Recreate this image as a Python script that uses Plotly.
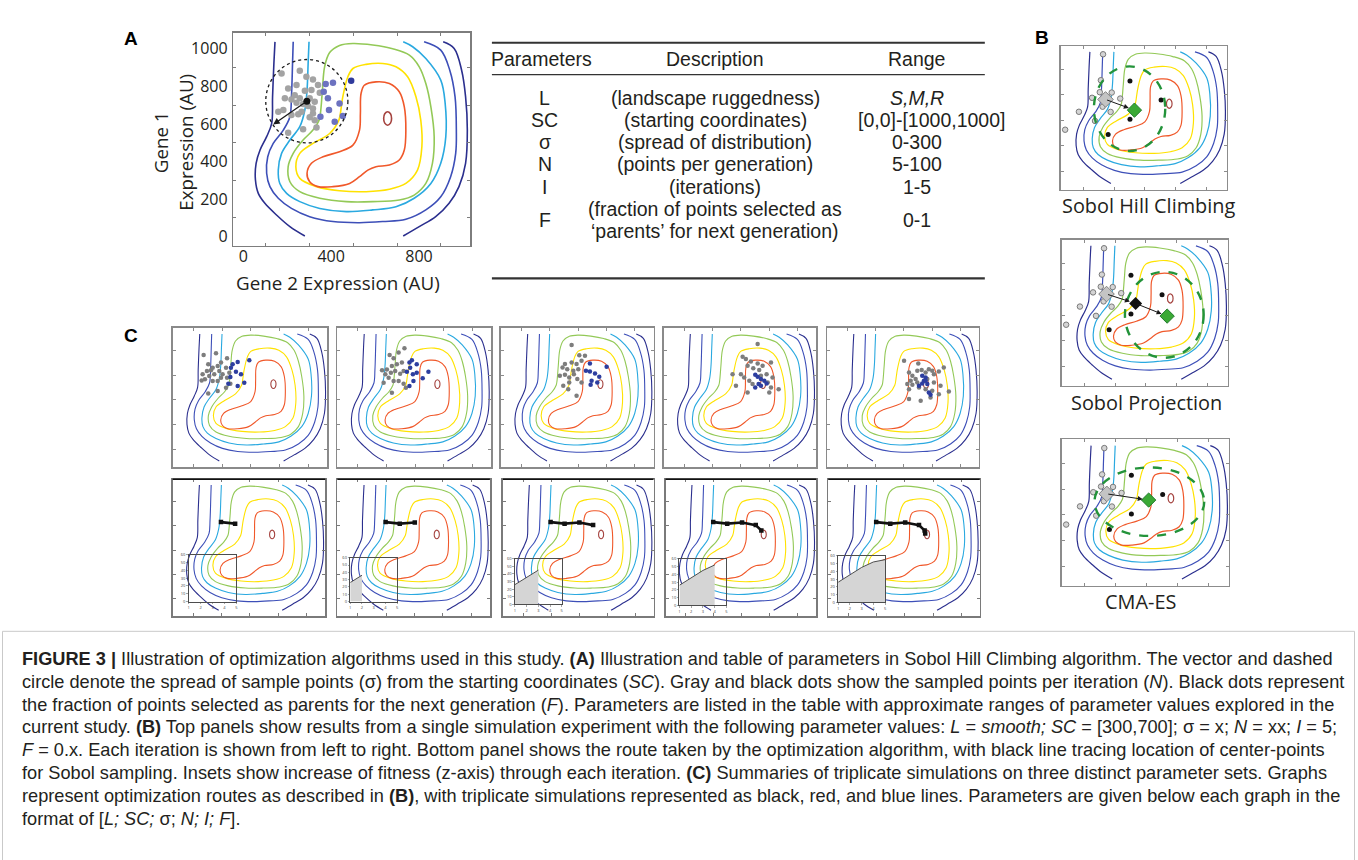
import plotly.graph_objects as go

W, H = 1358, 860
X_RANGE = [-45, 1032]
Y_RANGE = [-48, 1085]

# ---------------- landscape contour lines (gene 2 = x, gene 1 = y, AU) ----------------
NAVY1_L_X = [144, 139, 133, 129, 106, 76, 58, 55, 68, 98, 151, 212, 280]
NAVY1_L_Y = [1037, 922, 745, 603, 532, 461, 390, 301, 230, 177, 115, 53, 3]
NAVY1_R_X = [728, 801, 876, 937, 982, 1012, 1020, 1012, 994, 960, 910]
NAVY1_R_Y = [3, 53, 106, 177, 266, 390, 567, 745, 886, 1002, 1037]
NAVY2_X = [227, 224, 219, 212, 182, 136, 111, 106, 121, 159, 219, 302, 408, 529, 635, 740, 831, 899, 944, 967, 970, 964, 940, 899, 823]
NAVY2_Y = [1037, 922, 745, 638, 567, 496, 425, 337, 266, 204, 150, 106, 80, 74, 80, 92, 142, 212, 319, 443, 567, 745, 886, 993, 1037]
CYAN_X = [299, 295, 290, 280, 257, 212, 174, 159, 166, 197, 257, 348, 469, 589, 695, 778, 854, 899, 922, 919, 899, 831, 771, 728]
CYAN_Y = [1037, 922, 780, 674, 585, 514, 443, 354, 283, 230, 186, 150, 133, 142, 159, 204, 283, 390, 532, 709, 833, 948, 1011, 1037]
GREEN_X = [351, 360, 370, 393, 438, 499, 589, 680, 756, 801, 831, 854, 869, 861, 831, 778, 710, 589, 469, 348, 257, 212, 204, 227, 272, 317, 345, 351]
GREEN_Y = [656, 780, 904, 980, 1018, 1028, 1020, 1000, 966, 904, 815, 691, 532, 390, 283, 221, 195, 186, 186, 204, 239, 292, 372, 443, 514, 567, 620, 656]
YELLOW_X = [453, 476, 499, 559, 635, 695, 748, 786, 808, 813, 793, 740, 665, 559, 438, 333, 257, 239, 257, 317, 393, 435, 446, 453]
YELLOW_Y = [745, 851, 895, 917, 922, 904, 851, 745, 620, 478, 354, 283, 252, 239, 244, 266, 310, 372, 443, 496, 549, 620, 691, 745]
RED_X = [536, 552, 604, 665, 710, 733, 740, 733, 710, 665, 604, 567, 529, 484, 408, 340, 302, 290, 310, 363, 438, 499, 529, 533, 536]
RED_Y = [762, 807, 824, 815, 771, 691, 567, 461, 408, 381, 372, 354, 319, 283, 266, 266, 292, 337, 390, 425, 452, 487, 567, 656, 762]
PEAK_X = [675, 670, 657, 644, 639, 644, 657, 670, 675]
PEAK_Y = [629, 654, 665, 654, 629, 604, 593, 604, 629]

# ---------------- panel A samples ----------------
A_GRAY_X = [174, 257, 287, 317, 242, 204, 340, 310, 280, 234, 189, 219, 257, 302, 325, 348, 242, 272, 295, 317, 265, 159, 182, 219, 250, 302, 325, 333, 272, 204, 317]
A_GRAY_Y = [869, 883, 851, 837, 807, 789, 807, 780, 776, 753, 736, 730, 736, 736, 718, 766, 713, 706, 695, 682, 665, 665, 674, 647, 652, 635, 620, 581, 571, 553, 656]
A_BLUE_X = [375, 408, 366, 385, 438, 390, 351, 416, 453]
A_BLUE_Y = [812, 819, 771, 736, 709, 674, 638, 612, 642]
A_OUT_X = [491]
A_OUT_Y = [830]
A_SC = [289, 721]          # starting coordinates
A_SIGMA = [187, 222]       # spread (x, y)
A_ARROW_TIP = [136, 597]

# ---------------- panel B samples ----------------
B_GRAY_X = [229, 215, 208, 285, 158, 340, 226, 278, 73, 177, -16]
B_GRAY_Y = [1018, 814, 720, 717, 676, 670, 606, 565, 566, 494, 425]
B_START = [245, 663]
B_BLACK_X = [403, 604, 403, 262]
B_BLACK_Y = [808, 658, 508, 387]
B_TITLES = ["Sobol Hill Climbing", "Sobol Projection", "CMA-ES"]
B_NEW_X = [432, 637, 514]
B_NEW_Y = [579, 492, 615]
B_MID = [433, 590]          # intermediate centre (projection)
B_ELL_X0 = [170, 364, 166]
B_ELL_X1 = [631, 873, 871]
B_ELL_Y0 = [258, 169, 337]
B_ELL_Y1 = [923, 835, 868]

# ---------------- panel C, top row samples (5 iterations) ----------------
C1_GRAY_X = [171, 257, 203, 234, 269, 292, 334, 194, 222, 164, 210, 245, 280, 303, 327, 350, 292, 269, 334, 357, 234, 157, 180, 327, 203, 269]
C1_GRAY_Y = [867, 880, 790, 763, 777, 804, 839, 736, 741, 709, 695, 709, 736, 709, 763, 722, 681, 654, 681, 632, 654, 659, 668, 599, 553, 572]
C1_BLUE_X = [373, 408, 489, 361, 396, 431, 357, 454, 408, 343]
C1_BLUE_Y = [790, 809, 823, 763, 730, 709, 687, 640, 613, 632]
C2_GRAY_X = [426, 385, 322, 350, 408, 373, 338, 303, 269, 292, 331, 361, 396, 420, 315, 350, 280, 420, 385, 338, 436]
C2_GRAY_Y = [921, 886, 867, 839, 804, 790, 777, 749, 741, 709, 722, 736, 714, 736, 681, 654, 640, 632, 654, 558, 599]
C2_BLUE_X = [461, 478, 512, 466, 443, 485, 512, 594, 554, 489, 461]
C2_BLUE_Y = [804, 823, 790, 763, 730, 709, 722, 730, 676, 654, 613]
C3_GRAY_X = [454, 508, 548, 524, 489, 454, 407, 390, 423, 466, 501, 371, 407, 437, 470, 494, 524, 437, 395, 489, 430]
C3_GRAY_Y = [947, 865, 860, 819, 792, 805, 792, 765, 751, 737, 751, 697, 705, 683, 710, 670, 642, 642, 615, 534, 588]
C3_BLUE_X = [583, 555, 583, 619, 649, 595, 635, 701, 588]
C3_BLUE_Y = [797, 737, 732, 716, 689, 656, 642, 770, 623]
C4_GRAY_X = [619, 513, 536, 571, 619, 654, 713, 548, 588, 630, 442, 501, 524, 560, 583, 466, 548, 682, 690, 724, 713, 767, 701, 642]
C4_GRAY_Y = [955, 852, 833, 814, 797, 778, 805, 778, 759, 743, 710, 710, 683, 656, 629, 615, 561, 710, 642, 683, 602, 588, 561, 697]
C4_BLUE_X = [602, 619, 642, 666, 682, 602, 626, 642]
C4_BLUE_Y = [705, 689, 670, 656, 634, 602, 629, 615]
C5_GRAY_X = [501, 602, 536, 560, 595, 626, 654, 677, 701, 713, 748, 783, 583, 548, 524, 560, 595, 536, 607, 654, 713, 760, 748, 819, 701, 619, 536, 689, 666]
C5_GRAY_Y = [819, 797, 724, 697, 737, 743, 724, 751, 737, 710, 732, 765, 670, 656, 629, 623, 642, 588, 602, 588, 642, 615, 547, 569, 575, 493, 507, 520, 670]
C5_BLUE_X = [630, 654, 642, 630, 666, 607, 677, 689, 654]
C5_BLUE_Y = [697, 683, 656, 634, 629, 615, 561, 542, 656]

# ---------------- panel C, bottom row route & fitness insets ----------------
ROUTE_X = [296, 396, 502, 600, 640, 644]
ROUTE_Y = [731, 718, 727, 706, 662, 636]
ITER = [1, 2, 3, 4, 5]
FITNESS = [26, 36, 45, 52, 55]

# ---------------- table ----------------
TABLE_HEAD = ["Parameters", "Description", "Range"]
TABLE_PARAM = ["L", "SC", "σ", "N", "I", "F"]
TABLE_DESC = ["(landscape ruggedness)", "(starting coordinates)", "(spread of distribution)",
              "(points per generation)", "(iterations)",
              "(fraction of points selected as", "‘parents’ for next generation)"]
TABLE_RANGE = ["<i>S,M,R</i>", "[0,0]-[1000,1000]", "0-300", "5-100", "1-5", "0-1"]

CAPTION_LINES = [
    "<b>FIGURE 3 |</b> Illustration of optimization algorithms used in this study. <b>(A)</b> Illustration and table of parameters in Sobol Hill Climbing algorithm. The vector and dashed",
    "circle denote the spread of sample points (σ) from the starting coordinates (<i>SC</i>). Gray and black dots show the sampled points per iteration (<i>N</i>). Black dots represent",
    "the fraction of points selected as parents for the next generation (<i>F</i>). Parameters are listed in the table with approximate ranges of parameter values explored in the",
    "current study. <b>(B)</b> Top panels show results from a single simulation experiment with the following parameter values: <i>L</i> = <i>smooth; SC</i> = [300,700]; σ = x; <i>N</i> = xx; <i>I</i> = 5;",
    "<i>F</i> = 0.x. Each iteration is shown from left to right. Bottom panel shows the route taken by the optimization algorithm, with black line tracing location of center-points",
    "for Sobol sampling. Insets show increase of fitness (z-axis) through each iteration. <b>(C)</b> Summaries of triplicate simulations on three distinct parameter sets. Graphs",
    "represent optimization routes as described in <b>(B)</b>, with triplicate simulations represented as black, red, and blue lines. Parameters are given below each graph in the",
    "format of [<i>L; SC;</i> σ; <i>N; I; F</i>].",
]

# ---------------- styles ----------------
C_NAVY1, C_NAVY2, C_CYAN = "#2b2f8e", "#3d4fb8", "#2aa9e0"
C_GREEN, C_YELLOW, C_RED, C_PEAK = "#93c957", "#ffe200", "#f0582a", "#a5433f"
FONT = "Open Sans, Lato, sans-serif"
TABLE_FONT = "Liberation Sans, Arial, sans-serif"
CAP_FONT = "Liberation Sans, Arial, sans-serif"

fig = go.Figure()
layout = {}
count = [0]
annotations = []
shapes = []


def new_axes(x0, x1, y0, y1, xr=X_RANGE, yr=Y_RANGE, frame="#8a8a8a", fw=1.4):
    count[0] += 1
    i = count[0]
    s = "" if i == 1 else str(i)
    common = dict(showgrid=False, zeroline=False, showline=True, mirror="ticks",
                  linecolor=frame, linewidth=fw, ticks="inside", ticklen=3,
                  tickcolor=frame, showticklabels=False, fixedrange=True)
    layout["xaxis" + s] = dict(domain=[x0 / W, x1 / W], range=xr, anchor="y" + s,
                               tickvals=[100, 300, 500, 700, 900], **common)
    layout["yaxis" + s] = dict(domain=[1 - y1 / H, 1 - y0 / H], range=yr, anchor="x" + s,
                               tickvals=[100, 300, 500, 700, 900], **common)
    return "x" + s, "y" + s


def line(xs, ys, color, width, xa, ya, shape="spline"):
    fig.add_trace(go.Scatter(x=xs, y=ys, mode="lines",
                             line=dict(color=color, width=width, shape=shape, smoothing=1.0),
                             xaxis=xa, yaxis=ya, hoverinfo="skip"))


def landscape(xa, ya, w):
    for xs, ys, c in [(NAVY1_L_X, NAVY1_L_Y, C_NAVY1), (NAVY1_R_X, NAVY1_R_Y, C_NAVY1),
                      (NAVY2_X, NAVY2_Y, C_NAVY2), (CYAN_X, CYAN_Y, C_CYAN),
                      (GREEN_X, GREEN_Y, C_GREEN), (YELLOW_X, YELLOW_Y, C_YELLOW),
                      (RED_X, RED_Y, C_RED), (PEAK_X, PEAK_Y, C_PEAK)]:
        line(xs, ys, c, w, xa, ya)


def dots(xs, ys, xa, ya, color, size, symbol="circle", lc=None, lw=0):
    fig.add_trace(go.Scatter(x=xs, y=ys, mode="markers",
                             marker=dict(color=color, size=size, symbol=symbol,
                                         line=dict(color=lc or color, width=lw)),
                             xaxis=xa, yaxis=ya, hoverinfo="skip"))


def text(px, py, s, size=17, color="#231f20", family=FONT, xanchor="center", angle=0, yanchor="middle"):
    annotations.append(dict(x=px / W, y=1 - py / H, xref="paper", yref="paper", text=s,
                            showarrow=False, xanchor=xanchor, yanchor=yanchor, textangle=angle,
                            borderpad=0,
                            font=dict(size=size, color=color, family=family)))


def arrow(xa, ya, tail, head, width=1.3, standoff=0, head_style=2):
    annotations.append(dict(x=head[0], y=head[1], ax=tail[0], ay=tail[1],
                            xref=xa, yref=ya, axref=xa, ayref=ya, text="", showarrow=True,
                            arrowhead=head_style, arrowsize=1, arrowwidth=width,
                            arrowcolor="#1a1a1a", standoff=standoff))


# ---------------- Panel A ----------------
xa, ya = new_axes(233, 470, 30, 244, frame="#7d7d7d", fw=1.6)
layout["xaxis"].update(tickvals=[0, 400, 800], ticktext=["0", "400", "800"], ticks="",
                       showticklabels=True, ticklabelstandoff=-4,
                       tickfont=dict(size=16, color="#231f20", family=FONT),
                       minor=dict(tickmode="linear", tick0=100, dtick=200, ticks="inside",
                                  ticklen=3, tickcolor="#7d7d7d"))
layout["yaxis"].update(tickvals=[0, 200, 400, 600, 800, 1000], ticks="",
                       showticklabels=True, ticklabelstandoff=1,
                       tickfont=dict(size=16, color="#231f20", family=FONT),
                       minor=dict(tickmode="linear", tick0=100, dtick=200, ticks="inside",
                                  ticklen=3, tickcolor="#7d7d7d"))
landscape(xa, ya, 1.6)
shapes.append(dict(type="circle", xref=xa, yref=ya,
                   x0=A_SC[0] - A_SIGMA[0], x1=A_SC[0] + A_SIGMA[0],
                   y0=A_SC[1] - A_SIGMA[1], y1=A_SC[1] + A_SIGMA[1],
                   line=dict(color="#1a1a1a", width=1.3, dash="dot")))
dots(A_GRAY_X, A_GRAY_Y, xa, ya, "#a3a3a3", 6.5)
dots(A_BLUE_X, A_BLUE_Y, xa, ya, "#6c72c0", 6.5)
dots(A_OUT_X, A_OUT_Y, xa, ya, "#2f3a9c", 6.5)
dots([A_SC[0]], [A_SC[1]], xa, ya, "#111111", 7)
arrow(xa, ya, A_SC, A_ARROW_TIP, width=1.3)
text(130, 36, "<b>A</b>", size=19, family="Liberation Sans, Arial, sans-serif", color="#000")
text(173, 140, "Gene 1<br>Expression (AU)", size=18.8, angle=-90)
text(338, 282, "Gene 2 Expression (AU)", size=18.8)

# ---------------- Table ----------------
for y0, w in [(40, 2.2), (72, 1.4), (277, 2.2)]:
    shapes.append(dict(type="line", xref="paper", yref="paper", x0=492 / W, x1=986 / W,
                       y0=1 - y0 / H, y1=1 - y0 / H, line=dict(color="#333333", width=w)))
TS = 19.5
text(542, 56, TABLE_HEAD[0], size=TS, family=TABLE_FONT)
text(716, 56, TABLE_HEAD[1], size=TS, family=TABLE_FONT)
text(918, 56, TABLE_HEAD[2], size=TS, family=TABLE_FONT)
row_y = [95.5, 117.8, 140.1, 162.4, 184.7, 218]
desc_y = [95.5, 117.8, 140.1, 162.4, 184.7, 207.2, 229.5]
for k in range(6):
    text(545, row_y[k], TABLE_PARAM[k], size=TS, family=TABLE_FONT)
    text(933 if k == 1 else 918, row_y[k], TABLE_RANGE[k], size=TS, family=TABLE_FONT)
for k in range(7):
    text(716, desc_y[k], TABLE_DESC[k], size=TS, family=TABLE_FONT)

# ---------------- Panel B ----------------
b_boxes = [(1062, 1229, 43, 188), (1063, 1230, 238, 385), (1063, 1231, 439, 586)]
b_title_pos = [(1150, 204), (1148, 402), (1142, 602)]
for k, (x0, x1, y0, y1) in enumerate(b_boxes):
    xa, ya = new_axes(x0, x1, y0, y1, frame="#8c8c8c", fw=1.2)
    landscape(xa, ya, 1.2)
    shapes.append(dict(type="circle", xref=xa, yref=ya, x0=B_ELL_X0[k], x1=B_ELL_X1[k],
                       y0=B_ELL_Y0[k], y1=B_ELL_Y1[k],
                       line=dict(color="#23933a", width=2.4, dash="dash")))
    dots(B_GRAY_X, B_GRAY_Y, xa, ya, "#d4d4d4", 5.5, lc="#7a7a7a", lw=1)
    dots(B_BLACK_X, B_BLACK_Y, xa, ya, "#111111", 5)
    dots([B_START[0]], [B_START[1]], xa, ya, "#c4c4c4", 12, symbol="diamond", lc="#808080", lw=1)
    if k == 1:
        dots([B_MID[0]], [B_MID[1]], xa, ya, "#111111", 10, symbol="diamond")
        arrow(xa, ya, B_START, B_MID, width=1, standoff=6)
        arrow(xa, ya, B_MID, [B_NEW_X[k], B_NEW_Y[k]], width=1, standoff=6)
    else:
        arrow(xa, ya, B_START, [B_NEW_X[k], B_NEW_Y[k]], width=1, standoff=6)
    dots([B_NEW_X[k]], [B_NEW_Y[k]], xa, ya, "#3aa935", 11, symbol="diamond", lc="#207a2c", lw=1)
    text(b_title_pos[k][0], b_title_pos[k][1], B_TITLES[k], size=19.9)
text(1043, 35, "<b>B</b>", size=19, family="Liberation Sans, Arial, sans-serif", color="#000")

# ---------------- Panel C ----------------
text(130, 334, "<b>C</b>", size=19, family="Liberation Sans, Arial, sans-serif", color="#000")
top_x = [(172, 327), (337, 491), (501, 654), (664, 817), (828, 980)]
gray_sets = [(C1_GRAY_X, C1_GRAY_Y), (C2_GRAY_X, C2_GRAY_Y), (C3_GRAY_X, C3_GRAY_Y),
             (C4_GRAY_X, C4_GRAY_Y), (C5_GRAY_X, C5_GRAY_Y)]
blue_sets = [(C1_BLUE_X, C1_BLUE_Y), (C2_BLUE_X, C2_BLUE_Y), (C3_BLUE_X, C3_BLUE_Y),
             (C4_BLUE_X, C4_BLUE_Y), (C5_BLUE_X, C5_BLUE_Y)]
for k, (x0, x1) in enumerate(top_x):
    xa, ya = new_axes(x0, x1, 327, 467, frame="#8a8a8a", fw=1.6)
    landscape(xa, ya, 1.1)
    dots(gray_sets[k][0], gray_sets[k][1], xa, ya, "#7d7d7d", 4.5)
    dots(blue_sets[k][0], blue_sets[k][1], xa, ya, "#2d3ea0", 4.5)

bot_x = [(172, 325), (337, 490), (503, 654), (666, 817), (829, 981)]
for k, (x0, x1) in enumerate(bot_x):
    xa, ya = new_axes(x0, x1, 479, 617, frame="#7a7a7a", fw=1.6)
    landscape(xa, ya, 1.1)
    shapes.append(dict(type="line", xref="paper", yref="paper", x0=x0 / W, x1=x1 / W,
                       y0=1 - 479 / H, y1=1 - 479 / H, line=dict(color="#111111", width=1.6)))
    n = k + 2
    fig.add_trace(go.Scatter(x=ROUTE_X[:n], y=ROUTE_Y[:n], mode="lines+markers",
                             line=dict(color="#111111", width=2.6),
                             marker=dict(color="#111111", size=4.5, symbol="square"),
                             xaxis=xa, yaxis=ya, hoverinfo="skip"))

inset_boxes = [(188, 236, 555, 602), (350, 397, 558, 602), (515, 562, 559, 605),
               (680, 727, 559, 606), (839, 886, 556, 603)]
for k, (x0, x1, y0, y1) in enumerate(inset_boxes):
    count[0] += 1
    s = str(count[0])
    ax_common = dict(showgrid=False, zeroline=False, showline=True, mirror=True,
                     linecolor="#4d4d4d", linewidth=1, ticks="outside", ticklen=1.5,
                     tickwidth=0.5, tickcolor="#4d4d4d", showticklabels=True,
                     tickfont=dict(size=4, color="#444", family=FONT), fixedrange=True)
    layout["xaxis" + s] = dict(domain=[x0 / W, x1 / W], range=[1, 5], anchor="y" + s,
                               tickvals=ITER, **ax_common)
    layout["yaxis" + s] = dict(domain=[1 - y1 / H, 1 - y0 / H], range=[0, 60], anchor="x" + s,
                               tickvals=[0, 10, 20, 30, 40, 50, 60], **ax_common)
    n = k + 1
    fig.add_trace(go.Scatter(x=ITER[:n], y=FITNESS[:n], mode="lines", fill="tozeroy",
                             fillcolor="#d5d5d5", line=dict(color="#4d4d4d", width=1),
                             xaxis="x" + s, yaxis="y" + s, hoverinfo="skip"))

# ---------------- Caption ----------------
shapes.append(dict(type="rect", xref="paper", yref="paper", x0=1.5 / W, x1=1356.5 / W,
                   y0=-0.01, y1=1 - 632 / H, line=dict(color="#c9c9c9", width=1)))
for i, s in enumerate(CAPTION_LINES):
    text(20, 660 + 22.9 * i, s, size=18.2, family=CAP_FONT, color="#231f20", xanchor="left")

layout.update(width=W, height=H, margin=dict(l=0, r=0, t=0, b=0),
              paper_bgcolor="white", plot_bgcolor="rgba(0,0,0,0)", showlegend=False,
              hovermode=False, annotations=annotations, shapes=shapes)
fig.update_layout(**layout)
fig.write_html("out.html", config={"displayModeBar": False, "staticPlot": True},
               post_script="document.body.style.margin='0';document.body.style.overflow='hidden';")
